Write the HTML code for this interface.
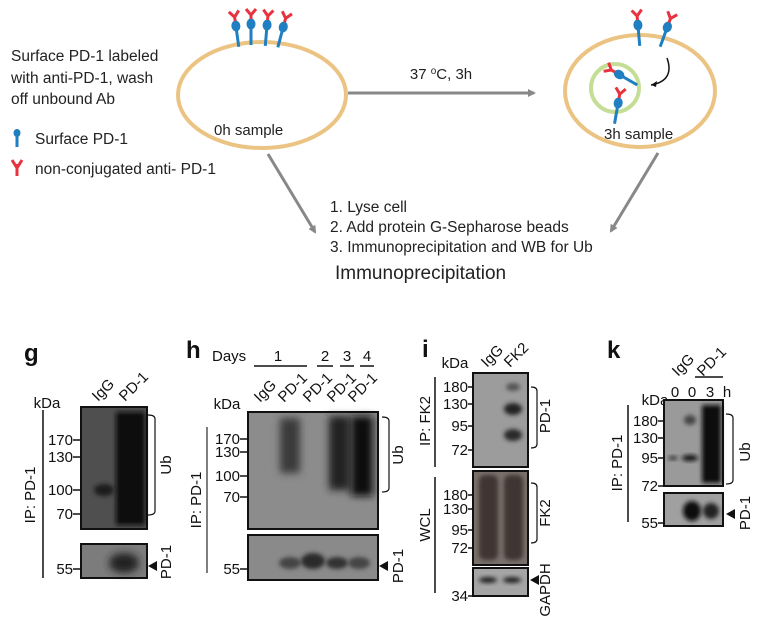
<!DOCTYPE html>
<html><head><meta charset="utf-8"><style>
html,body{margin:0;padding:0;background:#fff;}
svg{display:block;font-family:"Liberation Sans",Arial,sans-serif;}
</style></head><body>
<svg width="764" height="620" viewBox="0 0 764 620" xmlns="http://www.w3.org/2000/svg">
<defs>
<filter id="b2" x="-50%" y="-50%" width="200%" height="200%"><feGaussianBlur stdDeviation="2"/></filter>
<filter id="b4" x="-50%" y="-50%" width="200%" height="200%"><feGaussianBlur stdDeviation="4"/></filter>
<g id="rec"><line x1="0" y1="0" x2="0" y2="20" stroke="#1f7fc1" stroke-width="3"/><ellipse cx="0" cy="-1" rx="4.5" ry="5.5" fill="#1f7fc1"/><path d="M0,-6 L0,-10 M0,-10 L-5,-16 M0,-10 L5,-16" stroke="#e8333f" stroke-width="3" fill="none"/></g>
<marker id="ah" markerWidth="8" markerHeight="8" refX="6" refY="4" orient="auto" markerUnits="userSpaceOnUse"><path d="M0,0 L8,4 L0,8 z" fill="#888"/></marker>
</defs>

<ellipse cx="262" cy="95" rx="84" ry="53" fill="none" stroke="#ebc483" stroke-width="4"/>
<ellipse cx="640" cy="91" rx="75" ry="56" fill="none" stroke="#ebc483" stroke-width="4"/>
<circle cx="615" cy="88" r="24" fill="none" stroke="#c5de95" stroke-width="4"/>
<use href="#rec" transform="translate(236,27) rotate(-8)"/>
<use href="#rec" transform="translate(251,25)"/>
<use href="#rec" transform="translate(267,26) rotate(5)"/>
<use href="#rec" transform="translate(283,28) rotate(15)"/>
<use href="#rec" transform="translate(638,26) rotate(-5)"/>
<use href="#rec" transform="translate(667,28) rotate(20)"/>
<use href="#rec" transform="translate(620,75) rotate(-60)"/>
<use href="#rec" transform="translate(618,104) rotate(10)"/>
<path d="M667,58 C672,72 668,82 651,85" fill="none" stroke="#111" stroke-width="1.5"/>
<path d="M651,85 l6,-4 l-1,6 z" fill="#111"/>
<text x="214" y="135" font-size="15" fill="#222">0h sample</text>
<text x="604" y="139" font-size="15" fill="#222">3h sample</text>
<text font-size="15.5" fill="#222"><tspan x="11" y="61">Surface PD-1 labeled</tspan><tspan x="11" y="83">with anti-PD-1, wash</tspan><tspan x="11" y="104">off unbound Ab</tspan></text>
<g transform="translate(17,133)"><line x1="0" y1="0" x2="0" y2="14" stroke="#1f7fc1" stroke-width="3"/><ellipse cx="0" cy="0" rx="3.5" ry="4" fill="#1f7fc1"/></g>
<path d="M17,164 L17,176 M17,168 L12,160 M17,168 L22,160" stroke="#e8333f" stroke-width="3" fill="none"/>
<text x="35" y="144" font-size="15.5" fill="#222">Surface PD-1</text>
<text x="35" y="174" font-size="15.5" fill="#222">non-conjugated anti- PD-1</text>
<line x1="348" y1="93" x2="534" y2="93" stroke="#888" stroke-width="3" marker-end="url(#ah)"/>
<text x="441" y="79" font-size="15" fill="#222" text-anchor="middle">37 <tspan font-size="10" dy="-5">o</tspan><tspan dy="5">C, 3h</tspan></text>
<line x1="268" y1="154" x2="315" y2="232" stroke="#888" stroke-width="3" marker-end="url(#ah)"/>
<line x1="658" y1="153" x2="611" y2="231" stroke="#888" stroke-width="3" marker-end="url(#ah)"/>
<text font-size="15.5" fill="#222"><tspan x="330" y="212">1. Lyse cell</tspan><tspan x="330" y="232">2. Add protein G-Sepharose beads</tspan><tspan x="330" y="252">3. Immunoprecipitation and WB for Ub</tspan></text>
<text x="335" y="279" font-size="19" fill="#222">Immunoprecipitation</text>

<g font-size="15" fill="#111">
<!-- panel g -->
<text x="24" y="361" font-size="24" font-weight="bold">g</text>
<text x="47" y="408" text-anchor="middle">kDa</text>
<text transform="translate(98,402) rotate(-45)">IgG</text>
<text transform="translate(125,402) rotate(-45)">PD-1</text>
<rect x="81" y="407" width="66" height="122" fill="#4f4f4f" stroke="#111" stroke-width="2"/>
<rect x="116" y="412" width="29" height="113" fill="#0d0d0d" filter="url(#b2)"/>
<ellipse cx="104" cy="490" rx="10" ry="6" fill="#1a1a1a" filter="url(#b2)"/>
<rect x="81" y="544" width="66" height="34" fill="#7c7c7c" stroke="#111" stroke-width="2"/>
<ellipse cx="124" cy="563" rx="15" ry="10" fill="#222" filter="url(#b4)"/>
<g text-anchor="end"><text x="73" y="445">170</text><text x="73" y="462">130</text><text x="73" y="495">100</text><text x="73" y="519">70</text><text x="73" y="574">55</text></g>
<path d="M73,440h8M73,457h8M73,490h8M73,514h8M73,569h8" stroke="#111" stroke-width="1.5"/>
<line x1="43" y1="410" x2="43" y2="578" stroke="#111" stroke-width="1.5"/>
<text transform="translate(35,495) rotate(-90)" text-anchor="middle">IP: PD-1</text>
<path d="M148,415 q7,0 7,4 v92 q0,4 -7,4" fill="none" stroke="#111" stroke-width="1.2"/>
<text transform="translate(171,465) rotate(-90)" text-anchor="middle">Ub</text>
<path d="M148,566 l9,-5 v10 z" fill="#111"/>
<text transform="translate(171,562) rotate(-90)" text-anchor="middle">PD-1</text>

<!-- panel h -->
<text x="186" y="358" font-size="24" font-weight="bold">h</text>
<text x="212" y="361">Days</text>
<text x="278" y="361" text-anchor="middle">1</text><line x1="254" y1="366" x2="307" y2="366" stroke="#111" stroke-width="1.5"/>
<text x="325" y="361" text-anchor="middle">2</text><line x1="317" y1="366" x2="333" y2="366" stroke="#111" stroke-width="1.5"/>
<text x="347" y="361" text-anchor="middle">3</text><line x1="340" y1="366" x2="354" y2="366" stroke="#111" stroke-width="1.5"/>
<text x="367" y="361" text-anchor="middle">4</text><line x1="360" y1="366" x2="374" y2="366" stroke="#111" stroke-width="1.5"/>
<text x="227" y="409" text-anchor="middle">kDa</text>
<text transform="translate(260,403) rotate(-45)">IgG</text>
<text transform="translate(284,403) rotate(-45)">PD-1</text>
<text transform="translate(309,403) rotate(-45)">PD-1</text>
<text transform="translate(333,403) rotate(-45)">PD-1</text>
<text transform="translate(354,403) rotate(-45)">PD-1</text>
<rect x="248" y="412" width="130" height="117" fill="#8c8c8c" stroke="#111" stroke-width="2"/>
<rect x="280" y="418" width="20" height="55" fill="#3a3a3a" filter="url(#b4)"/>
<rect x="329" y="416" width="21" height="74" fill="#222" filter="url(#b4)"/>
<rect x="351" y="416" width="22" height="80" fill="#080808" filter="url(#b4)"/>
<rect x="248" y="535" width="130" height="45" fill="#8a8a8a" stroke="#111" stroke-width="2"/>
<ellipse cx="290" cy="563" rx="11" ry="6" fill="#444" filter="url(#b2)"/>
<ellipse cx="313" cy="561" rx="12" ry="8" fill="#2b2b2b" filter="url(#b2)"/>
<ellipse cx="337" cy="563" rx="11" ry="6" fill="#333" filter="url(#b2)"/>
<ellipse cx="359" cy="563" rx="11" ry="6" fill="#444" filter="url(#b2)"/>
<g text-anchor="end"><text x="240" y="444">170</text><text x="240" y="457">130</text><text x="240" y="481">100</text><text x="240" y="502">70</text><text x="240" y="574">55</text></g>
<path d="M240,439h8M240,452h8M240,476h8M240,497h8M240,569h8" stroke="#111" stroke-width="1.5"/>
<line x1="207" y1="427" x2="207" y2="573" stroke="#555" stroke-width="1.5"/>
<text transform="translate(201,500) rotate(-90)" text-anchor="middle">IP: PD-1</text>
<path d="M382,417 q7,0 7,4 v67 q0,4 -7,4" fill="none" stroke="#111" stroke-width="1.2"/>
<text transform="translate(403,455) rotate(-90)" text-anchor="middle">Ub</text>
<path d="M379,566 l9,-5 v10 z" fill="#111"/>
<text transform="translate(403,566) rotate(-90)" text-anchor="middle">PD-1</text>

<!-- panel i -->
<text x="422" y="357" font-size="24" font-weight="bold">i</text>
<text x="455" y="368" text-anchor="middle">kDa</text>
<text transform="translate(487,368) rotate(-45)">IgG</text>
<text transform="translate(510,368) rotate(-45)">FK2</text>
<rect x="473" y="373" width="55" height="94" fill="#9c9c9c" stroke="#111" stroke-width="2"/>
<ellipse cx="513" cy="409" rx="9" ry="6" fill="#222" filter="url(#b2)"/>
<ellipse cx="513" cy="435" rx="9" ry="6" fill="#2a2a2a" filter="url(#b2)"/>
<ellipse cx="513" cy="387" rx="7" ry="4" fill="#555" filter="url(#b2)"/>
<rect x="473" y="471" width="55" height="94" fill="#7a706b" stroke="#111" stroke-width="2"/>
<rect x="479" y="475" width="19" height="85" rx="6" fill="#3f3430" filter="url(#b2)"/>
<rect x="504" y="475" width="19" height="85" rx="6" fill="#3f3430" filter="url(#b2)"/>
<rect x="473" y="568" width="55" height="28" fill="#a5a5a5" stroke="#111" stroke-width="2"/>
<ellipse cx="488" cy="580" rx="9" ry="3" fill="#222" filter="url(#b2)"/>
<ellipse cx="512" cy="580" rx="9" ry="3" fill="#222" filter="url(#b2)"/>
<g text-anchor="end"><text x="468" y="392">180</text><text x="468" y="409">130</text><text x="468" y="431">95</text><text x="468" y="455">72</text>
<text x="468" y="500">180</text><text x="468" y="514">130</text><text x="468" y="535">95</text><text x="468" y="553">72</text><text x="468" y="601">34</text></g>
<path d="M468,387h5M468,404h5M468,426h5M468,450h5M468,495h5M468,509h5M468,530h5M468,548h5M468,596h5" stroke="#111" stroke-width="1.5"/>
<line x1="435" y1="377" x2="435" y2="467" stroke="#111" stroke-width="1.5"/>
<line x1="435" y1="477" x2="435" y2="593" stroke="#111" stroke-width="1.5"/>
<text transform="translate(430,421) rotate(-90)" text-anchor="middle">IP: FK2</text>
<text transform="translate(430,525) rotate(-90)" text-anchor="middle">WCL</text>
<path d="M531,387 q6,0 6,4 v53 q0,4 -6,4" fill="none" stroke="#111" stroke-width="1.2"/>
<path d="M531,483 q6,0 6,4 v52 q0,4 -6,4" fill="none" stroke="#111" stroke-width="1.2"/>
<text transform="translate(550,416) rotate(-90)" text-anchor="middle">PD-1</text>
<text transform="translate(550,513) rotate(-90)" text-anchor="middle">FK2</text>
<path d="M530,580 l9,-5 v10 z" fill="#111"/>
<text transform="translate(550,590) rotate(-90)" text-anchor="middle">GAPDH</text>

<!-- panel k -->
<text x="607" y="358" font-size="24" font-weight="bold">k</text>
<text transform="translate(678,377) rotate(-45)">IgG</text>
<text transform="translate(703,377) rotate(-45)">PD-1</text>
<line x1="695" y1="377" x2="723" y2="377" stroke="#111" stroke-width="1.5"/>
<text x="675" y="397" text-anchor="middle">0</text><text x="692" y="397" text-anchor="middle">0</text><text x="710" y="397" text-anchor="middle">3</text><text x="727" y="397" text-anchor="middle">h</text>
<text x="655" y="405" text-anchor="middle">kDa</text>
<rect x="664" y="400" width="59" height="86" fill="#9a9a9a" stroke="#111" stroke-width="2"/>
<rect x="702" y="405" width="19" height="78" fill="#111" filter="url(#b2)"/>
<ellipse cx="690" cy="458" rx="8" ry="3" fill="#111" filter="url(#b2)"/>
<ellipse cx="673" cy="458" rx="5" ry="2" fill="#333" filter="url(#b2)"/>
<ellipse cx="690" cy="420" rx="6" ry="5" fill="#444" filter="url(#b2)"/>
<rect x="664" y="493" width="59" height="33" fill="#a0a0a0" stroke="#111" stroke-width="2"/>
<ellipse cx="692" cy="511" rx="9" ry="10" fill="#111" filter="url(#b2)"/>
<ellipse cx="711" cy="511" rx="8" ry="8" fill="#222" filter="url(#b2)"/>
<g text-anchor="end"><text x="658" y="426">180</text><text x="658" y="443">130</text><text x="658" y="463">95</text><text x="658" y="491">72</text><text x="658" y="528">55</text></g>
<path d="M658,421h6M658,438h6M658,458h6M658,486h6M658,523h6" stroke="#111" stroke-width="1.5"/>
<line x1="628" y1="405" x2="628" y2="522" stroke="#111" stroke-width="1.5"/>
<text transform="translate(622,463) rotate(-90)" text-anchor="middle">IP: PD-1</text>
<path d="M726,414 q7,0 7,4 v62 q0,4 -7,4" fill="none" stroke="#111" stroke-width="1.2"/>
<text transform="translate(750,452) rotate(-90)" text-anchor="middle">Ub</text>
<path d="M726,514 l9,-5 v10 z" fill="#111"/>
<text transform="translate(750,513) rotate(-90)" text-anchor="middle">PD-1</text>
</g>
</svg>
</body></html>
